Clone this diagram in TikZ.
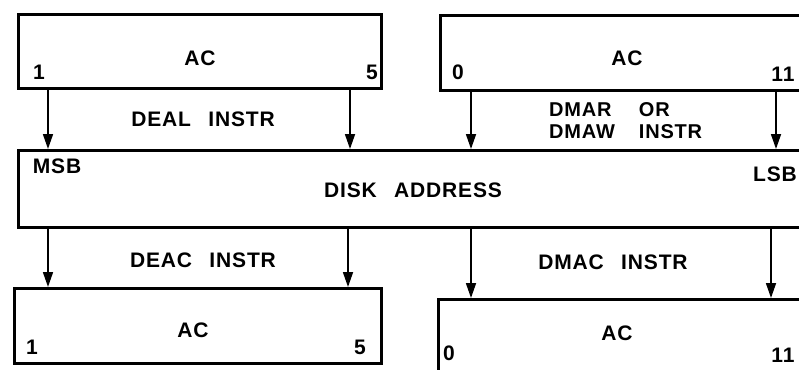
\documentclass[tikz,border=0pt]{standalone}
\usepackage{fontspec}
\setmainfont{Liberation Sans}
\newfontfamily\lettering[LetterSpace=4,WordSpace=2.6]{Liberation Sans Bold}
\usetikzlibrary{arrows.meta}

\begin{document}
\begin{tikzpicture}[x=1pt,y=-1pt]
\tikzstyle{every node}=[inner sep=0pt,font=\lettering\fontsize{21}{24}\selectfont];
\tikzstyle{reg}=[draw,line width=2.6pt,rectangle,anchor=north west];
\tikzstyle{arr}=[line width=1.7pt,-{Triangle[length=15pt,width=10pt]}];
\useasboundingbox (0,0) rectangle (799,369);
\clip (0,0) rectangle (799,369);

% registers
\node[reg,minimum width=363,minimum height=74](acA) at(17,13){};
\node[reg,minimum width=380,minimum height=75](acB) at(439,14){};
\node[reg,minimum width=800,minimum height=77](disk) at(17,149){};
\node[reg,minimum width=367,minimum height=75](acC) at(13,287){};
\node[reg,minimum width=380,minimum height=95](acD) at(437,298){};

% bit columns
\coordinate (c1) at(48,0);
\coordinate (c5) at(350,0);
\coordinate (c0) at(471,0);
\coordinate (c11) at(776,0);
\coordinate (d5) at(348,0);
\coordinate (d11) at(771,0);

\draw[arr] (c1 |- acA.south) -- (c1 |- disk.north);
\draw[arr] (c5 |- acA.south) -- (c5 |- disk.north);
\draw[arr] (c0 |- acB.south) -- (c0 |- disk.north);
\draw[arr] (c11 |- acB.south) -- (c11 |- disk.north);
\draw[arr] (c1 |- disk.south) -- (c1 |- acC.north);
\draw[arr] (d5 |- disk.south) -- (d5 |- acC.north);
\draw[arr] (c0 |- disk.south) -- (c0 |- acD.north);
\draw[arr] (d11 |- disk.south) -- (d11 |- acD.north);

% labels
\node(tA) at(200,58){AC};
\node(tA1) at(39,72){1};
\node(tA5) at(372,72){5};
\node(tB) at(627,58){AC};
\node(tB0) at(458,72){0};
\node(tB11) at(783,74){11};
\node(deal) at(203,119){DEAL INSTR};
\node[anchor=west,font=\lettering\fontsize{20}{22}\selectfont](dmar) at(549,123){\begin{tabular}{@{}l@{\hspace{24pt}}l@{}}DMAR&OR\\[0pt]DMAW&INSTR\end{tabular}};
\node(msb) at(57,166){MSB};
\node(lsb) at(775,174){LSB};
\node(addr) at(413,190){DISK ADDRESS};
\node(deac) at(203,260){DEAC INSTR};
\node(dmac) at(613,262){DMAC INSTR};
\node(tC) at(193,330){AC};
\node(tC1) at(32,347){1};
\node(tC5) at(360,347){5};
\node(tD) at(617,333){AC};
\node(tD0) at(449,353){0};
\node(tD11) at(783,355){11};

\end{tikzpicture}
\end{document}
